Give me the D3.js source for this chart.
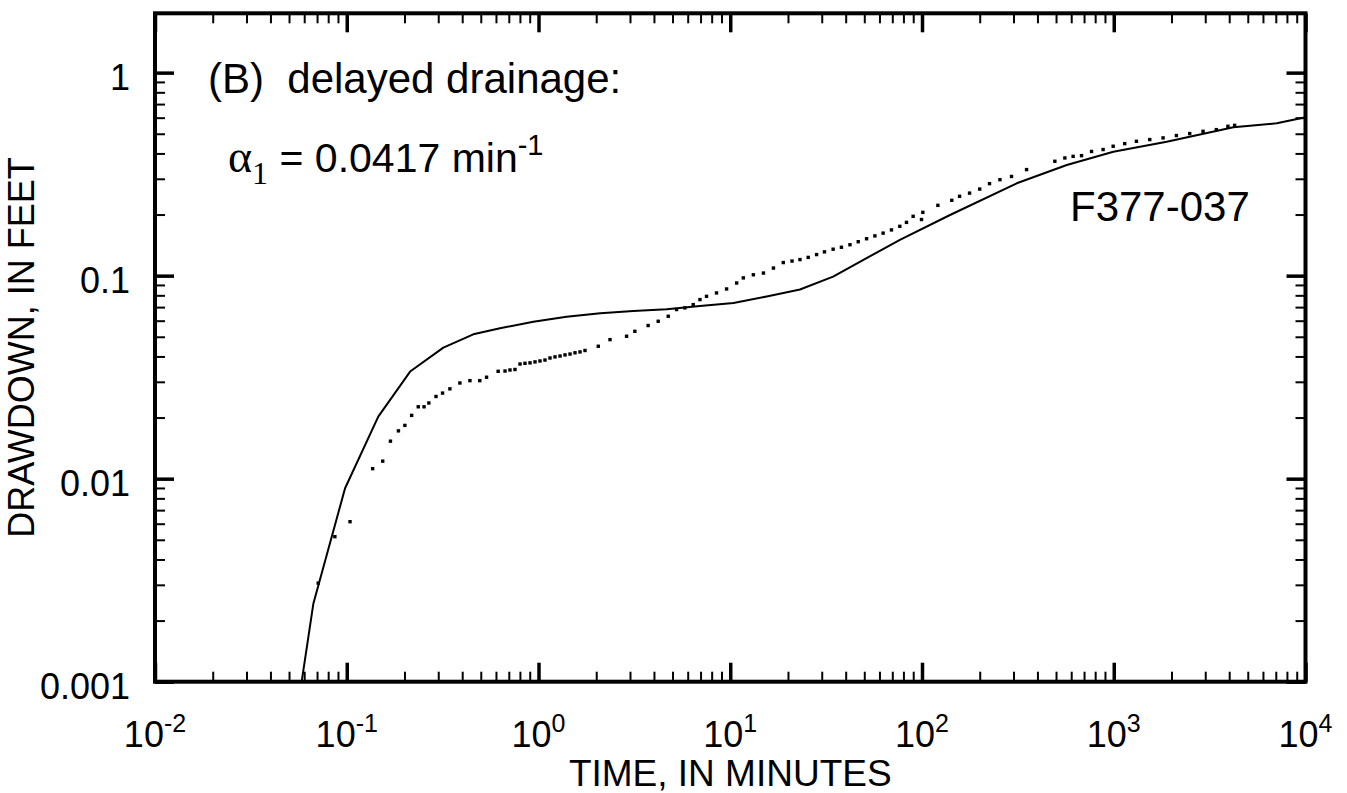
<!DOCTYPE html>
<html><head><meta charset="utf-8">
<script src="https://cdn.jsdelivr.net/npm/d3@7"></script>
<style>body{margin:0;background:#fff}svg{display:block}</style>
</head><body>
<svg id="chart" width="1347" height="793"></svg>
<script>
// ---- data ----
const modelTime = [0.0582, 0.0670, 0.098, 0.146, 0.214, 0.319, 0.457, 0.630, 0.94, 1.40, 2.10, 3.12, 4.66, 6.95, 10.4, 15.5, 23.1, 34.4, 51.4, 76.7, 140, 312, 569, 995, 1889, 4207, 7080, 10000];
const modelDrawdown = [0.001, 0.00243, 0.00897, 0.0202, 0.0337, 0.0442, 0.0514, 0.0551, 0.0593, 0.0628, 0.0653, 0.0670, 0.0683, 0.0709, 0.0733, 0.0790, 0.0855, 0.0989, 0.122, 0.150, 0.199, 0.285, 0.351, 0.408, 0.457, 0.538, 0.563, 0.603];

const obsTime = [0.0710, 0.0867, 0.104, 0.1365, 0.154, 0.169, 0.186, 0.201, 0.218, 0.236, 0.253, 0.268, 0.292, 0.316, 0.345, 0.389, 0.439, 0.494, 0.536, 0.616,
  0.669, 0.710, 0.754, 0.801, 0.850, 0.903, 0.959, 1.018, 1.081, 1.148, 1.219, 1.295, 1.375, 1.460, 1.550, 1.646, 1.748,
  2.05, 2.36, 2.88, 3.18, 3.73, 4.21, 4.75, 5.25, 5.80, 6.41, 6.95, 7.52, 8.48, 9.57,
  10.8, 11.7, 13.2, 14.9, 16.8, 18.9, 21, 23.1, 25.5, 28.2, 31, 34.4, 38, 42.1, 46.5, 51.4, 56.8, 62.7, 69.3, 76.6, 83, 89.9, 99.4, 101,
  121, 143, 157, 177, 200, 225, 255, 293, 351, 493, 556, 614, 679, 766, 880, 993, 1141, 1313, 1541, 1808, 2122, 2490, 2922, 3428, 3940, 4270];
const obsDrawdown = [0.00306, 0.00518, 0.00614, 0.0112, 0.0122, 0.0153, 0.0172, 0.0183, 0.0205, 0.0226, 0.0226, 0.0236, 0.0254, 0.0264, 0.0277, 0.0296, 0.0304, 0.0304, 0.0316, 0.0338,
  0.0339, 0.0343, 0.0345, 0.0367, 0.0370, 0.0372, 0.0376, 0.0380, 0.0384, 0.0393, 0.0398, 0.0402, 0.0407, 0.0411, 0.0417, 0.0421, 0.0428,
  0.0449, 0.0484, 0.0503, 0.0532, 0.0568, 0.0596, 0.0631, 0.0681, 0.0694, 0.0720, 0.0762, 0.0791, 0.0822, 0.0860,
  0.0920, 0.0975, 0.101, 0.103, 0.109, 0.116, 0.118, 0.120, 0.123, 0.127, 0.131, 0.135, 0.138, 0.142, 0.147, 0.152, 0.157, 0.162, 0.168, 0.175, 0.183, 0.196, 0.189, 0.205,
  0.222, 0.235, 0.246, 0.255, 0.267, 0.284, 0.297, 0.308, 0.333, 0.366, 0.380, 0.387, 0.390, 0.409, 0.418, 0.434, 0.447, 0.459, 0.468, 0.477, 0.490, 0.501, 0.514, 0.524, 0.544, 0.550];

const xTickValues = [0.01, 0.1, 1, 10, 100, 1000, 10000];
const xTickExponents = ["-2", "-1", "0", "1", "2", "3", "4"];
const yTickValues = [0.001, 0.01, 0.1, 1];
const yTickLabels = ["0.001", "0.01", "0.1", "1"];

(function () {
const pL = 155, pR = 1305.5, pT = 13.3, pB = 681.7;
const FONT = "'Liberation Sans', Arial, Helvetica, sans-serif";
const SERIF = "'Liberation Serif', 'Times New Roman', serif";

const svg = d3.select("#chart");
const x = d3.scaleLog().domain([0.01, 10000]).range([pL, pR]);
const y = d3.scaleLog().domain([0.001, 1.96]).range([pB, pT]);

function minorTicks(scale) {
  const [a, b] = scale.domain();
  const out = [];
  for (let e = Math.floor(Math.log10(a)); e <= Math.ceil(Math.log10(b)); e++) {
    for (let m = 2; m <= 9; m++) {
      const v = m * Math.pow(10, e);
      if (v > a && v < b) out.push(v);
    }
  }
  return out;
}
const xMinor = minorTicks(x), yMinor = minorTicks(y);
const MAJ = 19, MIN = 10;

function drawAxis(gen, transform, values, size, width) {
  const g = svg.append("g").attr("transform", transform)
    .call(gen.tickValues(values).tickSize(size).tickSizeOuter(0).tickFormat(""));
  g.select(".domain").remove();
  g.selectAll(".tick line").attr("stroke", "#000").attr("stroke-width", width);
  return g;
}
drawAxis(d3.axisBottom(x), `translate(0,${pB})`, xMinor, -MIN, 2);
drawAxis(d3.axisBottom(x), `translate(0,${pB})`, xTickValues, -MAJ, 3.5);
drawAxis(d3.axisTop(x), `translate(0,${pT})`, xMinor, -MIN, 2);
drawAxis(d3.axisTop(x), `translate(0,${pT})`, xTickValues, -MAJ, 3.5);
drawAxis(d3.axisLeft(y), `translate(${pL},0)`, yMinor, -MIN, 2);
drawAxis(d3.axisLeft(y), `translate(${pL},0)`, yTickValues, -MAJ, 3.5);
drawAxis(d3.axisRight(y), `translate(${pR},0)`, yMinor, -MIN, 2);
drawAxis(d3.axisRight(y), `translate(${pR},0)`, yTickValues, -MAJ, 3.5);

svg.append("rect").attr("x", pL).attr("y", pT).attr("width", pR - pL).attr("height", pB - pT)
  .attr("fill", "none").attr("stroke", "#000").attr("stroke-width", 4);

svg.append("g").selectAll("text").data(yTickValues).join("text")
  .attr("x", 130).attr("y", d => y(d) + 17)
  .attr("text-anchor", "end").attr("font-family", FONT).attr("font-size", 36)
  .text((d, i) => yTickLabels[i]);

const xl = svg.append("g").selectAll("text").data(xTickValues).join("text")
  .attr("x", d => x(d)).attr("y", 747)
  .attr("text-anchor", "middle").attr("font-family", FONT).attr("font-size", 36);
xl.append("tspan").text("10");
xl.append("tspan").attr("dy", -15).attr("font-size", 25).text((d, i) => xTickExponents[i]);

svg.append("text").attr("x", (pL + pR) / 2).attr("y", 786).attr("text-anchor", "middle")
  .attr("font-family", FONT).attr("font-size", 37).text("TIME, IN MINUTES");
svg.append("text").attr("transform", `translate(34,${(pT + pB) / 2}) rotate(-90)`).attr("text-anchor", "middle")
  .attr("font-family", FONT).attr("font-size", 36).text("DRAWDOWN, IN FEET");

svg.append("clipPath").attr("id", "clip").append("rect")
  .attr("x", pL).attr("y", pT).attr("width", pR - pL).attr("height", pB - pT);
const plot = svg.append("g").attr("clip-path", "url(#clip)");

const model = modelTime.map((t, i) => [t, modelDrawdown[i]]);
plot.append("path").datum(model)
  .attr("d", d3.line().x(d => x(d[0])).y(d => y(d[1])))
  .attr("fill", "none").attr("stroke", "#000").attr("stroke-width", 2).attr("stroke-linejoin", "round");

const obs = obsTime.map((t, i) => [t, obsDrawdown[i]]);
plot.append("g").selectAll("rect").data(obs).join("rect")
  .attr("x", d => x(d[0]) - 1.7).attr("y", d => y(d[1]) - 1.7)
  .attr("width", 3.4).attr("height", 3.4).attr("fill", "#000");

svg.append("text").attr("x", 208).attr("y", 93).attr("font-family", FONT).attr("font-size", 42)
  .style("white-space", "pre").text("(B)  delayed drainage:");
const a = svg.append("text").attr("x", 228).attr("y", 172).attr("font-family", FONT).attr("font-size", 41);
a.append("tspan").attr("font-family", SERIF).attr("font-size", 46).text("α");
a.append("tspan").attr("font-family", SERIF).attr("font-size", 32).attr("dy", 12).text("1");
a.append("tspan").attr("dy", -12).text(" = 0.0417 min");
a.append("tspan").attr("dy", -17).attr("font-size", 29).text("-1");
svg.append("text").attr("x", 1070).attr("y", 221).attr("font-family", FONT).attr("font-size", 42).text("F377-037");
})();
</script>
</body></html>
